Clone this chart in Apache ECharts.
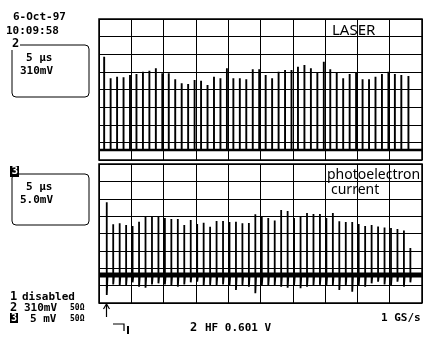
<!DOCTYPE html>
<html>
<head>
<meta charset="utf-8">
<script src="https://cdn.jsdelivr.net/npm/echarts@6/dist/echarts.min.js"></script>
<style>
html,body{margin:0;padding:0;background:#fff;}
#c{width:425px;height:337px;}
</style>
</head>
<body>
<div id="c"></div>
<script>
// Time axis: 10 divisions of 5 µs; vertical axis: 8 divisions
const xTicks = [0, 5, 10, 15, 20, 25, 30, 35, 40, 45, 50];
const yTicks = [0, 1, 2, 3, 4, 5, 6, 7, 8];

// Channel 2 (LASER): pulse times (µs) and peak levels (divisions)
const laserTimes = [0.8,1.8,2.8,3.8,4.8,5.8,6.8,7.8,8.8,9.8,10.8,11.8,12.8,13.8,14.8,15.8,16.8,17.8,18.8,19.8,20.8,21.8,22.8,23.8,24.8,25.8,26.8,27.8,28.8,29.8,30.8,31.8,32.8,33.8,34.8,35.8,36.8,37.8,38.8,39.8,40.8,41.8,42.8,43.8,44.8,45.8,46.8,47.9];
const laserPeaks = [5.86,4.64,4.73,4.69,4.82,4.88,5.01,5.07,5.20,4.92,4.92,4.58,4.35,4.31,4.54,4.50,4.26,4.73,4.64,5.20,4.64,4.64,4.58,5.15,5.15,4.82,4.64,5.01,5.11,5.11,5.29,5.39,5.20,4.99,5.58,5.15,4.95,4.64,4.88,4.95,4.58,4.58,4.73,4.88,5.01,4.88,4.82,4.77];
const laserBase = 0.57;

// Channel 3 (photoelectron current): pulse times, peaks and negative dips (divisions)
const peTimes = [1.2,2.2,3.2,4.2,5.2,6.2,7.2,8.2,9.2,10.2,11.2,12.2,13.2,14.2,15.2,16.2,17.2,18.2,19.2,20.2,21.2,22.2,23.2,24.2,25.2,26.2,27.2,28.2,29.2,30.2,31.2,32.2,33.2,34.2,35.2,36.2,37.2,38.2,39.2,40.2,41.2,42.2,43.2,44.2,45.2,46.2,47.2,48.2];
const pePeaks = [5.80,4.53,4.59,4.49,4.43,4.68,4.97,4.97,4.97,4.89,4.83,4.83,4.49,4.78,4.55,4.62,4.39,4.72,4.72,4.66,4.68,4.59,4.60,5.11,5.01,4.89,4.75,5.35,5.29,4.89,5.01,5.18,5.12,5.12,4.89,5.18,4.70,4.66,4.66,4.55,4.43,4.49,4.40,4.35,4.32,4.26,4.17,3.17];
const peDips = [0.46,1.07,1.00,1.04,1.19,0.94,0.88,1.07,1.13,1.07,1.00,0.94,1.07,1.19,1.23,1.00,1.04,1.00,1.07,1.00,0.75,1.04,0.94,0.56,1.00,1.00,1.04,0.94,0.88,1.04,0.85,0.94,1.04,1.04,1.00,1.04,0.75,1.00,0.65,1.00,0.94,1.13,1.23,1.07,1.00,1.23,0.94,1.19];
const peBase = 1.61;

function laserPath() {
  const d = [[0, laserBase]];
  laserTimes.forEach((t, i) => {
    d.push([t, laserBase], [t, laserPeaks[i]], [t, laserBase]);
  });
  d.push([50, laserBase]);
  return d;
}
function pePath() {
  const d = [[0, peBase]];
  peTimes.forEach((t, i) => {
    d.push([t, peBase], [t, pePeaks[i]], [t, peDips[i]], [t + 0.12, peBase]);
  });
  d.push([50, peBase]);
  return d;
}

const chart = echarts.init(document.getElementById('c'), null, {renderer: 'canvas'});
const axisX = (gi) => ({
  type: 'value', gridIndex: gi, min: xTicks[0], max: xTicks[xTicks.length - 1], interval: 5,
  axisLine: {show: false}, axisTick: {show: false}, axisLabel: {show: false},
  splitLine: {show: true, lineStyle: {color: '#000', width: 1}}
});
const axisY = (gi) => ({
  type: 'value', gridIndex: gi, min: yTicks[0], max: yTicks[yTicks.length - 1], interval: 1,
  axisLine: {show: false}, axisTick: {show: false}, axisLabel: {show: false},
  splitLine: {show: true, lineStyle: {color: '#000', width: 1}}
});
const mono = 'bold 11px "DejaVu Sans Mono"';
const hand = '14px "Noto Sans"';
function txt(text, x, y, font, fill) {
  return {type: 'text', style: {text: text, x: x, y: y, font: font || mono, fill: fill || '#000', textVerticalAlign: 'middle'}};
}
const option = {
  backgroundColor: '#fff',
  animation: false,
  grid: [
    {left: 99, top: 19, width: 323, height: 141, show: true, borderColor: '#000', borderWidth: 1.5, backgroundColor: 'transparent'},
    {left: 99, top: 164, width: 323, height: 139, show: true, borderColor: '#000', borderWidth: 1.5, backgroundColor: 'transparent'}
  ],
  xAxis: [axisX(0), axisX(1)],
  yAxis: [axisY(0), axisY(1)],
  series: [
    {type: 'line', xAxisIndex: 0, yAxisIndex: 0, data: [[0, laserBase], [50, laserBase]], symbol: 'none', lineStyle: {color: '#000', width: 2.5}},
    {type: 'line', xAxisIndex: 0, yAxisIndex: 0, data: laserPath(), symbol: 'none', lineStyle: {color: '#000', width: 1.9}},
    {type: 'line', xAxisIndex: 1, yAxisIndex: 1, data: [[0, peBase], [50, peBase]], symbol: 'none', lineStyle: {color: '#000', width: 5}},
    {type: 'line', xAxisIndex: 1, yAxisIndex: 1, data: pePath(), symbol: 'none', lineStyle: {color: '#000', width: 1.8}}
  ],
  graphic: [
    txt('6-Oct-97', 13, 17),
    txt('10:09:58', 6, 31),
    {type: 'rect', shape: {x: 12, y: 45, width: 77, height: 52, r: 4}, style: {fill: 'none', stroke: '#000', lineWidth: 1}},
    {type: 'rect', shape: {x: 11, y: 39, width: 9, height: 11}, style: {fill: '#fff'}},
    txt('2', 12, 44, 'bold 12px "DejaVu Sans Mono"'),
    txt('5 µs', 26, 58),
    txt('310mV', 20, 71),
    {type: 'rect', shape: {x: 12, y: 174, width: 77, height: 51, r: 4}, style: {fill: 'none', stroke: '#000', lineWidth: 1}},
    {type: 'rect', shape: {x: 10, y: 166, width: 9, height: 11}, style: {fill: '#000'}},
    txt('3', 11.5, 171.5, 'bold 11px "DejaVu Sans Mono"', '#fff'),
    txt('5 µs', 26, 187),
    txt('5.0mV', 20, 200),
    txt('LASER', 332, 31, '15px "Noto Sans"'),
    txt('photoelectron', 327, 175, hand),
    txt('current', 331, 190, hand),
    txt('1', 10, 297, 'bold 12px "DejaVu Sans Mono"'),
    txt('disabled', 22, 297),
    txt('2', 10, 308, 'bold 12px "DejaVu Sans Mono"'),
    txt('310mV', 24, 308),
    txt('50Ω', 70, 308, 'bold 8px "DejaVu Sans Mono"'),
    {type: 'rect', shape: {x: 10, y: 313, width: 8, height: 10}, style: {fill: '#000'}},
    txt('3', 11, 318, 'bold 10px "DejaVu Sans Mono"', '#fff'),
    txt('5 mV', 30, 319),
    txt('50Ω', 70, 319, 'bold 8px "DejaVu Sans Mono"'),
    {type: 'polyline', shape: {points: [[106.5, 305], [106.5, 317]]}, style: {stroke: '#000', lineWidth: 1.2, fill: 'none'}},
    {type: 'polyline', shape: {points: [[103.5, 309], [106.5, 304], [109.5, 309]]}, style: {stroke: '#000', lineWidth: 1.2, fill: 'none'}},
    txt('1 GS/s', 381, 318),
    {type: 'polyline', shape: {points: [[113, 324], [124, 324], [124, 331]]}, style: {stroke: '#000', lineWidth: 1.2, fill: 'none'}},
    {type: 'rect', shape: {x: 127, y: 326, width: 2, height: 8}, style: {fill: '#000'}},
    txt('2', 190, 328, 'bold 12px "DejaVu Sans Mono"'),
    txt('HF 0.601 V', 205, 328)
  ]
};
chart.setOption(option);
</script>
</body>
</html>
